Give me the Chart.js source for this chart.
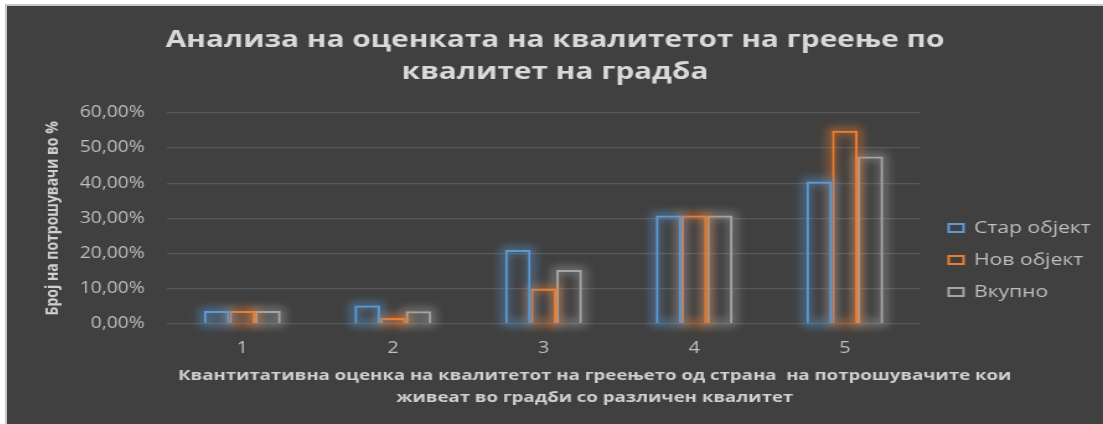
<!DOCTYPE html>
<html lang="mk">
<head>
  <meta charset="UTF-8">
  <title>Анализа на оценката на квалитетот на греење</title>
  <style>
    html, body {
      margin: 0;
      padding: 0;
      background-color: #ffffff;
      overflow: hidden;
      width: 1103px;
      height: 424px;
    }
    .panel {
      position: absolute;
      left: 5px;
      top: 4px;
      width: 1098px;
      height: 420px;
      background-color: #404040;
      border-left: 2px solid #c8c8c8;
      border-top: 2px solid #c8c8c8;
    }
    #chart {
      position: absolute;
      left: 0;
      top: 0;
    }
  </style>
</head>
<body>
  <div class="panel">
    <!-- Excel-ов дијаграм е хоризонтално растегнат, па и канвасот се растегнува -->
    <canvas id="chart" width="884" height="418" style="width:1096px;height:418px"></canvas>
  </div>

  <script src="https://cdn.jsdelivr.net/npm/chart.js"></script>
  <script>
    // Податоци
    const categories = ['1', '2', '3', '4', '5'];
    const starObjekt = [3.7, 5.2, 21.0, 30.8, 40.5];
    const novObjekt = [3.7, 1.7, 10.0, 30.8, 54.9];
    const vkupno = [3.7, 3.6, 15.3, 30.8, 47.6];
    const yMin = 0;
    const yMax = 60;
    const yStep = 10;

    const chartTitle = ['Анализа на оценката на квалитетот на греење по', 'квалитет на градба'];
    const yTitle = 'Број на потрошувачи во %';
    const xCaption = ['Квантитативна оценка на квалитетот на греењето од страна  на потрошувачите кои',
                      'живеат во градби со различен квалитет'];

    const blue = '#5B9BD5';
    const orange = '#ED7D31';
    const gray = '#A5A5A5';
    const glowColors = ['rgba(91,155,213,0.6)', 'rgba(237,125,49,0.6)', 'rgba(165,165,165,0.6)'];

    // Сјај околу столбовите (ефектот „glow“ од Excel)
    const glowPlugin = {
      id: 'glow',
      beforeDatasetDraw(chart, args) {
        const ctx = chart.ctx;
        ctx.save();
        ctx.filter = 'blur(4px)';
        ctx.strokeStyle = glowColors[args.index];
        ctx.lineWidth = 6;
        args.meta.data.forEach(bar => {
          const p = bar.getProps(['x', 'y', 'base', 'width'], true);
          ctx.strokeRect(p.x - p.width / 2, p.y, p.width, p.base - p.y);
        });
        ctx.restore();
      }
    };

    // Во Excel насловот на x-оската е поместен десно, а легендата е пониско
    const placeBoxes = {
      id: 'placeBoxes',
      afterLayout(chart) {
        const box = chart.boxes.find(b => b.options && b.options.text === xCaption);
        if (box) {
          box.left += 32;
          box.right += 32;
        }
        if (chart.legend) {
          chart.legend.top += 45;
          chart.legend.bottom += 45;
        }
      }
    };

    const ctx = document.getElementById('chart');
    new Chart(ctx, {
      type: 'bar',
      data: {
        labels: categories,
        datasets: [
          { label: 'Стар објект', data: starObjekt, borderColor: blue, backgroundColor: 'rgba(0,0,0,0)', borderWidth: 2 },
          { label: 'Нов објект', data: novObjekt, borderColor: orange, backgroundColor: 'rgba(0,0,0,0)', borderWidth: 2 },
          { label: 'Вкупно', data: vkupno, borderColor: gray, backgroundColor: 'rgba(0,0,0,0)', borderWidth: 2 }
        ]
      },
      options: {
        responsive: false,
        animation: false,
        devicePixelRatio: 1,
        datasets: {
          bar: { categoryPercentage: 0.51, barPercentage: 1.0 }
        },
        plugins: {
          title: {
            display: true,
            text: chartTitle,
            color: '#d9d9d9',
            font: { family: 'Open Sans', size: 24, weight: 'bold', lineHeight: 1.33 },
            padding: { top: 18, bottom: 25 }
          },
          subtitle: {
            display: true,
            position: 'bottom',
            text: xCaption,
            color: '#d0d0d0',
            font: { family: 'Open Sans', size: 15, weight: 'bold', lineHeight: 1.47 },
            padding: { top: 0, bottom: 15 }
          },
          legend: {
            position: 'right',
            labels: {
              color: '#bfbfbf',
              font: { family: 'Open Sans', size: 17 },
              boxWidth: 12,
              boxHeight: 8,
              padding: 15
            }
          },
          tooltip: { enabled: false }
        },
        scales: {
          x: {
            grid: { display: false, drawTicks: false },
            border: { display: false },
            ticks: {
              color: '#bfbfbf',
              font: { family: 'Open Sans', size: 16, lineHeight: 0.2 },
              padding: 23
            },
            afterFit(scale) {
              scale.height = 41;
            }
          },
          y: {
            min: yMin,
            max: yMax,
            grid: { color: '#595959', lineWidth: 1.3, drawTicks: false },
            border: { display: false },
            ticks: {
              stepSize: yStep,
              color: '#bfbfbf',
              font: { family: 'Open Sans', size: 15.5 },
              padding: 18,
              callback: v => v.toFixed(2).replace('.', ',') + '%'
            },
            title: {
              display: true,
              text: yTitle,
              color: '#d0d0d0',
              font: { family: 'Open Sans', size: 14, weight: 'bold' },
              padding: { top: 29, bottom: 8 }
            },
            afterFit(scale) {
              scale.width = 129;
            }
          },
          // празна оска: само го држи растојанието меѓу столбовите и легендата
          gap: {
            type: 'linear',
            position: 'right',
            display: true,
            grid: { display: false, drawTicks: false },
            border: { display: false },
            ticks: { display: false },
            afterFit(scale) {
              scale.width = 8;
            }
          }
        }
      },
      plugins: [glowPlugin, placeBoxes]
    });
  </script>
</body>
</html>
